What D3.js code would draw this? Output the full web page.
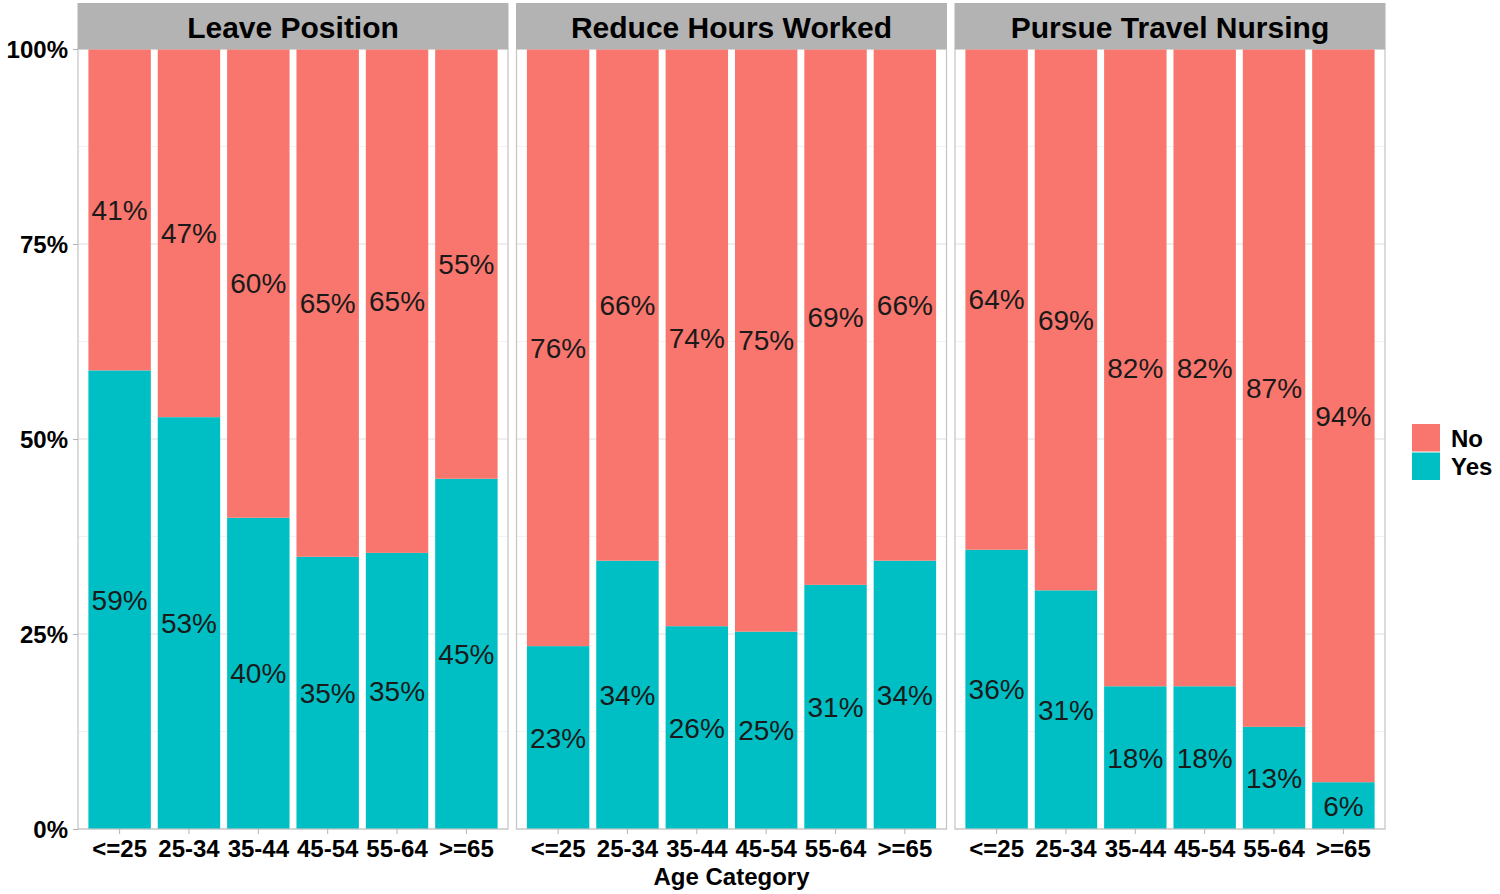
<!DOCTYPE html>
<html>
<head>
<meta charset="utf-8">
<script src="https://cdn.jsdelivr.net/npm/d3@7"></script>
<style>
  html, body { margin: 0; padding: 0; background: #fff; }
  svg text { font-family: "Liberation Sans", Arial, sans-serif; }
</style>
</head>
<body>
<svg id="chart" width="1500" height="894"></svg>
<script>
// ---- data ----
const categories = ["<=25", "25-34", "35-44", "45-54", "55-64", ">=65"];
const facets = ["Leave Position", "Reduce Hours Worked", "Pursue Travel Nursing"];
const responses = ["Yes", "No"];            // stacking order: Yes at the bottom
const legendOrder = ["No", "Yes"];
const yesLeave  = [58.8, 52.8, 39.9, 34.9, 35.4, 44.9];
const noLeave   = [41.2, 47.2, 60.1, 65.1, 64.6, 55.1];
const yesReduce = [23.4, 34.4, 26.0, 25.3, 31.3, 34.4];
const noReduce  = [76.4, 65.6, 74.0, 74.7, 68.7, 65.6];
const yesTravel = [35.8, 30.6, 18.3, 18.3, 13.1, 6.0];
const noTravel  = [64.2, 69.4, 81.7, 81.7, 86.9, 94.0];
const yTicks = [0, 0.25, 0.5, 0.75, 1];
const yMinor = [0.125, 0.375, 0.625, 0.875];
const xTitle = "Age Category";

const seriesByFacet = [
  { Yes: yesLeave,  No: noLeave },
  { Yes: yesReduce, No: noReduce },
  { Yes: yesTravel, No: noTravel }
];

// ---- layout ----
const colors = { No: "#F8766D", Yes: "#00BFC4" };
const panelTop = 49, panelBottom = 829;
const stripTop = 3;
const panelLefts = [78, 516.5, 955];
const panelW = 430;

const svg = d3.select("#chart");
const y = d3.scaleLinear().domain([0, 1]).range([panelBottom, panelTop]);

const stack = d3.stack().keys(responses).offset(d3.stackOffsetExpand);

facets.forEach((facet, fi) => {
  const x0 = panelLefts[fi];
  const x = d3.scaleBand().domain(categories)
    .range([x0, x0 + panelW]).paddingInner(0.1).paddingOuter(0.15);

  const rows = categories.map((c, i) => ({
    cat: c,
    Yes: seriesByFacet[fi].Yes[i],
    No: seriesByFacet[fi].No[i]
  }));
  const stacked = stack(rows);

  const g = svg.append("g");

  // panel background
  g.append("rect").attr("x", x0).attr("y", panelTop)
    .attr("width", panelW).attr("height", panelBottom - panelTop).attr("fill", "#fff");

  // grid: minor
  g.selectAll(".minor").data(yMinor).join("line")
    .attr("x1", x0).attr("x2", x0 + panelW)
    .attr("y1", d => y(d)).attr("y2", d => y(d))
    .attr("stroke", "#efefef").attr("stroke-width", 0.8);
  // grid: major
  g.selectAll(".major").data(yTicks).join("line")
    .attr("x1", x0).attr("x2", x0 + panelW)
    .attr("y1", d => y(d)).attr("y2", d => y(d))
    .attr("stroke", "#dedede").attr("stroke-width", 1);
  g.selectAll(".vmajor").data(categories).join("line")
    .attr("x1", d => x(d) + x.bandwidth() / 2).attr("x2", d => x(d) + x.bandwidth() / 2)
    .attr("y1", panelTop).attr("y2", panelBottom)
    .attr("stroke", "#dedede").attr("stroke-width", 1);

  // bars
  stacked.forEach(layer => {
    g.selectAll(null).data(layer).join("rect")
      .attr("x", d => x(d.data.cat))
      .attr("width", x.bandwidth())
      .attr("y", d => y(d[1]))
      .attr("height", d => y(d[0]) - y(d[1]))
      .attr("fill", colors[layer.key]);
  });

  // labels
  stacked.forEach(layer => {
    g.selectAll(null).data(layer).join("text")
      .attr("x", d => x(d.data.cat) + x.bandwidth() / 2)
      .attr("y", d => y((d[0] + d[1]) / 2))
      .attr("dy", "0.36em")
      .attr("text-anchor", "middle")
      .attr("font-size", 28)
      .attr("fill", "#1a1a1a")
      .text(d => Math.round(d.data[layer.key]) + "%");
  });

  // panel border
  g.append("rect").attr("x", x0).attr("y", panelTop)
    .attr("width", panelW).attr("height", panelBottom - panelTop)
    .attr("fill", "none").attr("stroke", "#c4c4c4").attr("stroke-width", 1.2);

  // strip
  g.append("rect").attr("x", x0 - 0.5).attr("y", stripTop)
    .attr("width", panelW + 1).attr("height", panelTop - stripTop)
    .attr("fill", "#b3b3b3");
  g.append("text").attr("x", x0 + panelW / 2).attr("y", 38)
    .attr("text-anchor", "middle").attr("font-size", 30).attr("font-weight", "bold")
    .attr("fill", "#000").text(facet);

  // x axis
  const xAxis = d3.axisBottom(x).tickSize(5).tickPadding(4);
  const ax = g.append("g").attr("transform", `translate(0,${panelBottom})`).call(xAxis);
  ax.select(".domain").remove();
  ax.selectAll(".tick line").attr("stroke", "#b3b3b3");
  ax.selectAll(".tick text").attr("font-size", 24).attr("font-weight", "bold")
    .attr("fill", "#000").attr("y", 28).attr("dy", 0);
});

// y axis (left of first panel)
const yAxis = d3.axisLeft(y).tickValues(yTicks).tickFormat(d3.format(".0%")).tickSize(5).tickPadding(5);
const ay = svg.append("g").attr("transform", `translate(${panelLefts[0]},0)`).call(yAxis);
ay.select(".domain").remove();
ay.selectAll(".tick line").attr("stroke", "#b3b3b3");
ay.selectAll(".tick text").attr("font-size", 24).attr("font-weight", "bold")
  .attr("fill", "#000").attr("dy", "0.36em");

// x title
svg.append("text").attr("x", panelLefts[1] + panelW / 2).attr("y", 885)
  .attr("text-anchor", "middle").attr("font-size", 24).attr("font-weight", "bold")
  .attr("fill", "#000").text(xTitle);

// legend
const lg = svg.append("g").attr("transform", "translate(1412,424)");
legendOrder.forEach((k, i) => {
  lg.append("rect").attr("x", 0).attr("y", i * 28.5).attr("width", 28).attr("height", 27.5)
    .attr("fill", colors[k]);
  lg.append("text").attr("x", 39).attr("y", i * 28.5 + 14).attr("dy", "0.36em")
    .attr("font-size", 24).attr("font-weight", "bold").attr("fill", "#000").text(k);
});
</script>
</body>
</html>
